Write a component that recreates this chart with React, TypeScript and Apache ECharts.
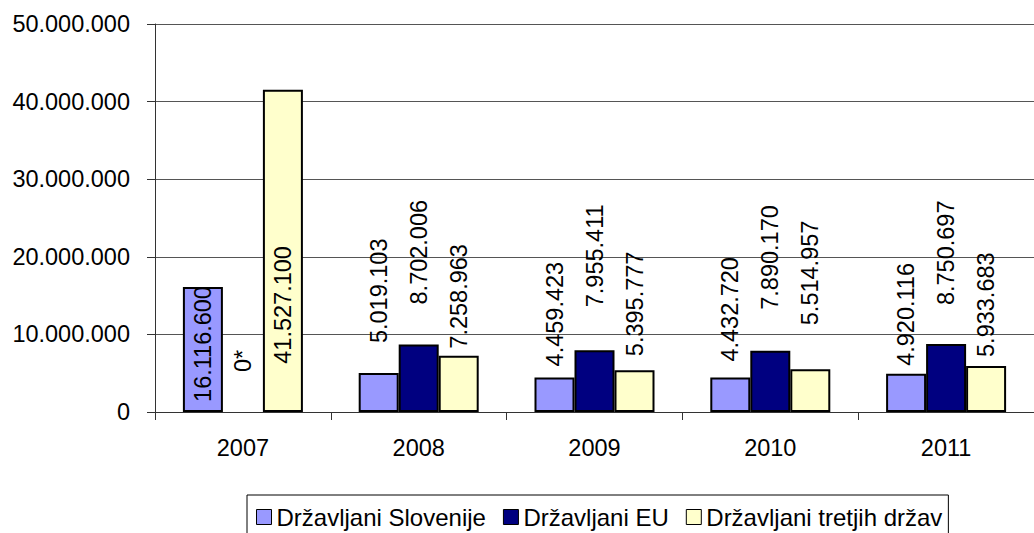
import React, { useEffect, useRef } from "react";
import * as echarts from "echarts";

const years = ["2007", "2008", "2009", "2010", "2011"];
const seriesNames = ["Državljani Slovenije", "Državljani EU", "Državljani tretjih držav"];
const slovenia = [16116600, 5019103, 4459423, 4432720, 4920116];
const eu = [0, 8702006, 7955411, 7890170, 8750697];
const thirdCountries = [41527100, 7258963, 5395777, 5514957, 5933683];
const yTicks = [0, 10000000, 20000000, 30000000, 40000000, 50000000];

// label placement (style): distance from bar top to the start of the rotated label
const sloLabelGap = [-115, 30, 11, 16, 8];
const euLabelGap = [40, 40, 43, 41, 39];
const thirdLabelGap = [-274, 7, 14, 44, 9];

const colors = ["#9999FF", "#000080", "#FFFFCC"];
const FONT = "'Liberation Sans', Arial, sans-serif";
const FS = 23.5;

const fmt = (v: number) => String(Math.round(v)).replace(/\B(?=(\d{3})+(?!\d))/g, ".");

export default function App() {
  const ref = useRef<HTMLDivElement>(null);
  useEffect(() => {
    if (!ref.current) return;
    const chart = echarts.init(ref.current, undefined, { renderer: "svg" });
    const values = [slovenia, eu, thirdCountries];
    const gaps = [sloLabelGap, euLabelGap, thirdLabelGap];
    const series = values.map((arr, si) => ({
      name: seriesNames[si],
      type: "bar",
      barWidth: 40,
      barGap: "0%",
      itemStyle: { color: colors[si], borderColor: "#000", borderWidth: 2 },
      data: arr.map((v, i) => ({
        value: v,
        itemStyle: v === 0 ? { borderWidth: 0 } : undefined,
        label: {
          show: true,
          position: "top",
          distance: gaps[si][i],
          rotate: 90,
          align: "left",
          verticalAlign: "middle",
          fontSize: FS,
          fontFamily: FONT,
          color: "#000",
          formatter: (p: any) => (p.value === 0 ? "0*" : fmt(p.value)),
        },
      })),
    }));
    chart.setOption({
      animation: false,
      textStyle: { fontFamily: FONT },
      grid: { left: 155, top: 24, width: 890, height: 388, containLabel: false },
      legend: {
        data: seriesNames,
        left: 247,
        top: 495,
        orient: "horizontal",
        icon: "rect",
        itemWidth: 15,
        itemHeight: 15,
        itemGap: 17,
        padding: [10, 6, 10, 9],
        borderColor: "#000",
        borderWidth: 1,
        itemStyle: { borderColor: "#000", borderWidth: 1 },
        textStyle: { fontSize: 24, fontFamily: FONT, color: "#000" },
      },
      xAxis: {
        type: "category",
        data: years,
        axisLine: { lineStyle: { color: "#333", width: 1 } },
        axisTick: { show: true, length: 8, alignWithLabel: false, interval: 0, lineStyle: { color: "#333" } },
        axisLabel: { fontSize: FS, fontFamily: FONT, color: "#000", margin: 24 },
        splitLine: { show: false },
      },
      yAxis: {
        type: "value",
        min: yTicks[0],
        max: yTicks[yTicks.length - 1],
        interval: yTicks[1] - yTicks[0],
        axisLine: { show: true, lineStyle: { color: "#333", width: 1 } },
        axisTick: { show: true, length: 8, lineStyle: { color: "#333" } },
        axisLabel: { fontSize: FS, fontFamily: FONT, color: "#000", margin: 25, formatter: (v: number) => fmt(v) },
        splitLine: { show: true, lineStyle: { color: "#555", width: 1 } },
      },
      series,
    });
    return () => chart.dispose();
  }, []);
  return <div ref={ref} style={{ position: "absolute", left: 0, top: 0, width: 1034, height: 533 }} />;
}
